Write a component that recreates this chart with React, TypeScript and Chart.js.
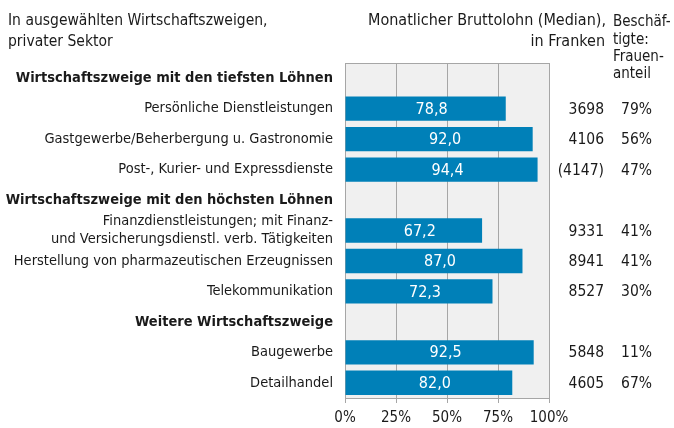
import React, { useEffect, useRef } from "react";
import { Chart, registerables } from "chart.js";

Chart.register(...registerables);

const categories: (string | string[])[] = [
  "Wirtschaftszweige mit den tiefsten Löhnen",
  "Persönliche Dienstleistungen",
  "Gastgewerbe/Beherbergung u. Gastronomie",
  "Post-, Kurier- und Expressdienste",
  "Wirtschaftszweige mit den höchsten Löhnen",
  ["Finanzdienstleistungen; mit Finanz-", "und Versicherungsdienstl. verb. Tätigkeiten"],
  "Herstellung von pharmazeutischen Erzeugnissen",
  "Telekommunikation",
  "Weitere Wirtschaftszweige",
  "Baugewerbe",
  "Detailhandel",
];
const isHeader = [true, false, false, false, true, false, false, false, true, false, false];
const values: (number | null)[] = [null, 78.8, 92.0, 94.4, null, 67.2, 87.0, 72.3, null, 92.5, 82.0];
const wages = ["", "3698", "4106", "(4147)", "", "9331", "8941", "8527", "", "5848", "4605"];
const femaleShare: (number | null)[] = [null, 79, 56, 47, null, 41, 41, 30, null, 11, 67];
const xTickStep = 25;
const xMax = 100;
const titleLeft = ["In ausgewählten Wirtschaftszweigen,", "privater Sektor"];
const titleWage = ["Monatlicher Bruttolohn (Median),", "in Franken"];
const titleShare = ["Beschäf-", "tigte:", "Frauen-", "anteil"];

const FONT = "'DejaVu Sans Condensed', 'Liberation Sans Narrow', sans-serif";
const FS = 14.5;
const TEXT = "#1a1a1a";
const GRID = "#a6a6a6";
const BAR = "#0080b8";

const decoPlugin = {
  id: "deco",
  beforeDraw(chart: any) {
    const { ctx, chartArea: a } = chart;
    ctx.save();
    ctx.fillStyle = "#f0f0f0";
    ctx.fillRect(a.left, a.top, a.right - a.left, a.bottom - a.top);
    ctx.restore();
  },
  afterDraw(chart: any) {
    const { ctx, chartArea: a } = chart;
    const yScale = chart.scales.y;
    ctx.save();
    ctx.strokeStyle = GRID;
    ctx.lineWidth = 1;
    ctx.beginPath();
    ctx.moveTo(a.left, Math.round(a.top) + 0.5);
    ctx.lineTo(a.right, Math.round(a.top) + 0.5);
    ctx.stroke();

    const meta = chart.getDatasetMeta(0);
    ctx.font = `16px ${FONT}`;
    ctx.textBaseline = "middle";
    ctx.textAlign = "center";
    ctx.fillStyle = "#ffffff";
    meta.data.forEach((el: any, i: number) => {
      const v = values[i];
      if (v == null) return;
      ctx.fillText(v.toFixed(1).replace(".", ","), (el.base + el.x) / 2 + 6, el.y + 1);
    });

    ctx.fillStyle = TEXT;
    ctx.textAlign = "right";
    ctx.font = `15.5px ${FONT}`;
    for (let i = 0; i < categories.length; i++) {
      const y = yScale.getPixelForValue(i) + 1;
      if (wages[i]) ctx.fillText(wages[i], 604, y);
      const s = femaleShare[i];
      if (s != null) ctx.fillText(`${s}%`, 652, y);
    }

    ctx.font = `15.5px ${FONT}`;
    ctx.textAlign = "left";
    ctx.fillText(titleLeft[0], 8, 21);
    ctx.fillText(titleLeft[1], 8, 42);
    ctx.font = `16px ${FONT}`;
    ctx.textAlign = "right";
    ctx.fillText(titleWage[0], 606, 21);
    ctx.fillText(titleWage[1], 605, 42);
    ctx.font = `15px ${FONT}`;
    ctx.textAlign = "left";
    const shareY = [22, 40, 57, 74];
    titleShare.forEach((t, i) => ctx.fillText(t, 613, shareY[i]));
    ctx.restore();
  },
};

export default function App() {
  const ref = useRef<HTMLCanvasElement>(null);
  useEffect(() => {
    if (!ref.current) return;
    Chart.defaults.font.family = FONT;
    Chart.defaults.color = TEXT;
    const chart = new Chart(ref.current, {
      type: "bar",
      data: {
        labels: categories as any,
        datasets: [
          {
            data: values as any,
            backgroundColor: BAR,
            borderWidth: 0,
            barPercentage: 0.8,
            categoryPercentage: 1,
          },
        ],
      },
      options: {
        indexAxis: "y",
        animation: false,
        responsive: false,
        maintainAspectRatio: false,
        layout: { padding: { top: 63, right: 125, left: 0, bottom: 0 } },
        plugins: { legend: { display: false }, tooltip: { enabled: false }, title: { display: false } },
        scales: {
          x: {
            min: 0,
            max: xMax,
            ticks: {
              stepSize: xTickStep,
              callback: (v: any) => `${v}%`,
              color: TEXT,
              font: { size: 15 },
              padding: 6,
              maxRotation: 0,
            },
            grid: { color: GRID, lineWidth: 1, tickLength: 5, drawOnChartArea: true },
            border: { display: true, color: GRID },
            afterFit: (s: any) => {
              s.height = 30;
            },
          },
          y: {
            grid: { display: false, drawTicks: false },
            border: { display: false },
            ticks: {
              color: TEXT,
              padding: 12,
              autoSkip: false,
              font: (c: any) => ({
                size: FS,
                weight: isHeader[c.index] ? "bold" : "normal",
                lineHeight: 1.25,
              }),
            },
            afterFit: (s: any) => {
              s.width = 345;
            },
          },
        },
      },
      plugins: [decoPlugin],
    });
    return () => chart.destroy();
  }, []);
  return (
    <div style={{ position: "fixed", left: 0, top: 0, width: 674, height: 428, background: "#fff" }}>
      <canvas ref={ref} width={674} height={428} style={{ display: "block" }} />
    </div>
  );
}
